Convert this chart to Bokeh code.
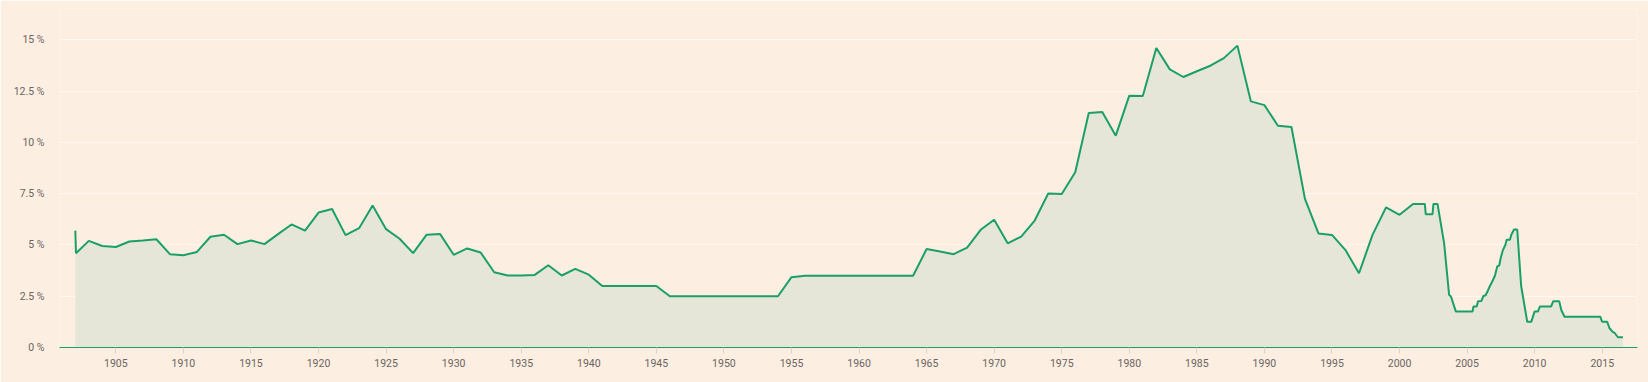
from bokeh.plotting import figure
from bokeh.models import FixedTicker, CustomJSTickFormatter, Range1d
from bokeh.embed import file_html
from bokeh.resources import INLINE

# ---- data ----
years = ([1902.0, 1902.05] + list(range(1903, 2002)) +
         [2001.87, 2001.94, 2002.44, 2002.51, 2002.81, 2003.30, 2003.67, 2003.80,
          2004.17, 2005.40, 2005.47, 2005.71, 2005.81, 2006.06, 2006.20, 2006.37,
          2006.54, 2006.69, 2006.86, 2007.06, 2007.23, 2007.38, 2007.48, 2007.65,
          2007.83, 2007.93, 2008.17, 2008.27, 2008.47, 2008.71, 2009.00, 2009.45,
          2009.75, 2009.99, 2010.24, 2010.39, 2011.22, 2011.37, 2011.82, 2011.97,
          2012.21, 2014.85, 2015.00, 2015.37, 2015.54, 2015.79, 2015.91, 2016.16,
          2016.53])

rates = ([5.7, 4.6,
          5.2, 4.95, 4.9, 5.17, 5.22, 5.28, 4.55, 4.5, 4.66, 5.4,          # 1903-1912
          5.5, 5.04, 5.22, 5.04, 5.53, 6.0, 5.7, 6.58, 6.75, 5.48,         # 1913-1922
          5.82, 6.92, 5.77, 5.3, 4.6, 5.5, 5.53, 4.52, 4.83, 4.63,         # 1923-1932
          3.67, 3.51, 3.51, 3.54, 4.01, 3.51, 3.83, 3.55, 3.0, 3.0,        # 1933-1942
          3.0, 3.0, 3.0, 2.5, 2.5, 2.5, 2.5, 2.5, 2.5, 2.5,                # 1943-1952
          2.5, 2.5, 3.43, 3.5, 3.5, 3.5, 3.5, 3.5, 3.5, 3.5,               # 1953-1962
          3.5, 3.5, 4.8, 4.68, 4.55, 4.87, 5.74, 6.23, 5.08, 5.41,         # 1963-1972
          6.19, 7.51, 7.48, 8.55, 11.43, 11.48, 10.33, 12.28, 12.26, 14.6, # 1973-1982
          13.56, 13.19, 13.47, 13.74, 14.11, 14.72, 12.0, 11.82, 10.81, 10.75,  # 1983-1992
          7.25, 5.56, 5.49, 4.75, 3.62, 5.49, 6.83, 6.47, 7.0]             # 1993-2001
         + [7.0, 6.5, 6.5, 7.0, 7.0, 5.08, 2.56, 2.5,
            1.75, 1.75, 2.0, 2.0, 2.25, 2.27, 2.5, 2.55,
            2.78, 3.0, 3.22, 3.5, 3.95, 4.0, 4.35, 4.75,
            5.0, 5.25, 5.25, 5.5, 5.75, 5.75, 3.0, 1.25,
            1.25, 1.75, 1.75, 2.0, 2.0, 2.25, 2.25, 1.83,
            1.5, 1.5, 1.25, 1.25, 0.94, 0.75, 0.72, 0.5,
            0.5])

x_ticks = [1905, 1910, 1915, 1920, 1925, 1930, 1935, 1940, 1945, 1950, 1955, 1960,
           1965, 1970, 1975, 1980, 1985, 1990, 1995, 2000, 2005, 2010, 2015]
y_ticks = [0, 2.5, 5, 7.5, 10, 12.5, 15]

BG = "#fdeee2"
GREEN = "#1a9f68"
AREA = "#e5e6d8"
TXT = "#6b6460"

p = figure(width=1648, height=382, output_backend="svg", toolbar_location=None,
           x_range=Range1d(1900.83, 2017.61), y_range=Range1d(0, 16.53),
           min_border_left=59, min_border_right=11, min_border_top=8, min_border_bottom=35)

p.background_fill_color = BG
p.border_fill_color = BG
p.outline_line_color = None

p.varea(x=years, y1=0, y2=rates, fill_color=AREA, fill_alpha=1)
p.line(x=years, y=rates, line_color=GREEN, line_width=2)

# x axis
xa = p.xaxis[0]
xa.ticker = FixedTicker(ticks=x_ticks)
xa.axis_line_color = GREEN
xa.axis_line_width = 1
xa.major_tick_line_color = "#ddd0c5"
xa.major_tick_out = 6
xa.major_tick_in = 0
xa.minor_tick_line_color = None
xa.major_label_standoff = 5
xa.major_label_text_font = "Roboto"
xa.major_label_text_font_size = "10.5px"
xa.major_label_text_color = TXT

# y axis
ya = p.yaxis[0]
ya.ticker = FixedTicker(ticks=y_ticks)
ya.formatter = CustomJSTickFormatter(code="return tick + ' %';")
ya.axis_line_color = None
ya.major_tick_line_color = None
ya.minor_tick_line_color = None
ya.major_tick_out = 0
ya.major_tick_in = 0
ya.major_label_standoff = 15
ya.major_label_text_font = "Roboto"
ya.major_label_text_font_size = "10.5px"
ya.major_label_text_color = TXT

p.xgrid.grid_line_color = None
p.ygrid.grid_line_color = "#fff7f0"
p.ygrid.grid_line_width = 1

open("out.html", "w").write(file_html(p, INLINE))
